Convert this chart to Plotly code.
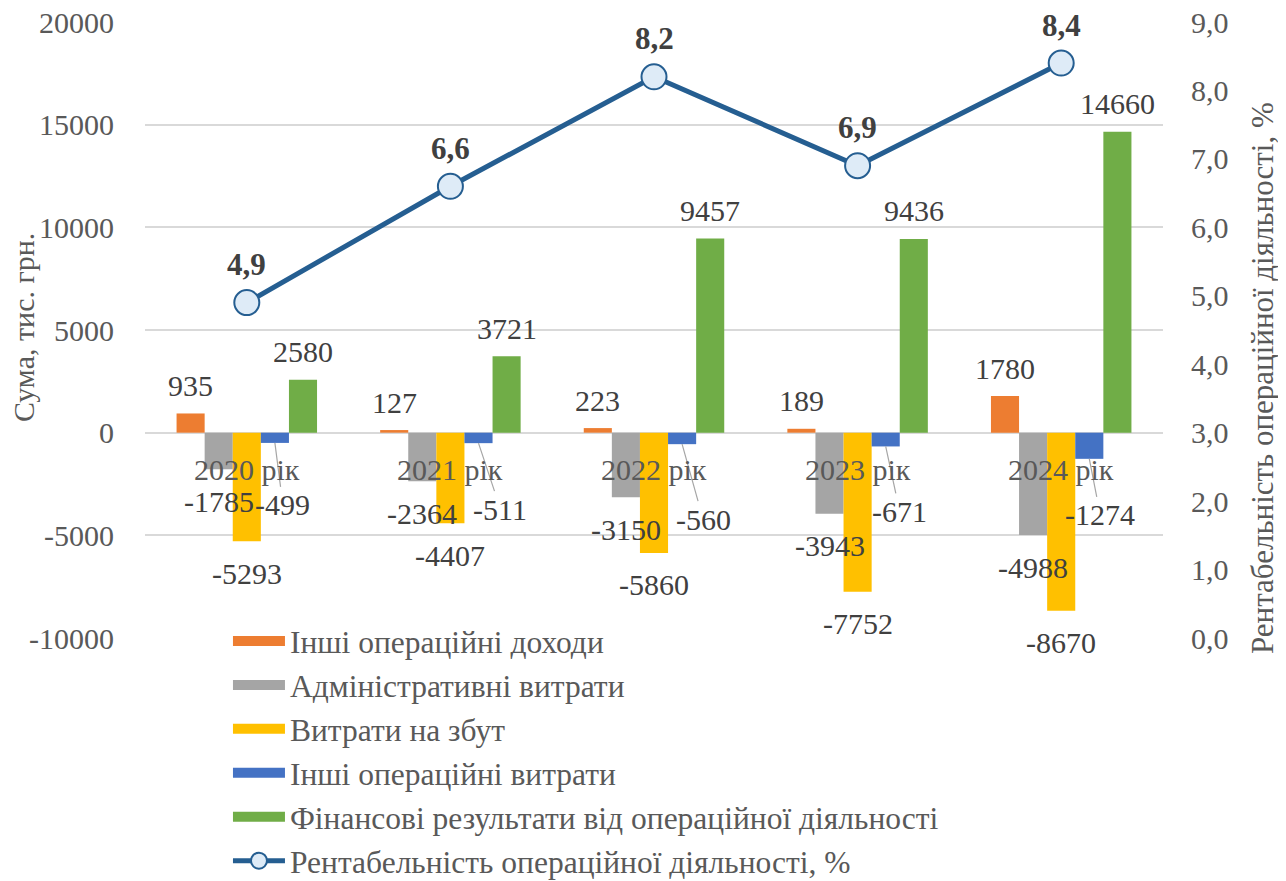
import plotly.graph_objects as go

categories = ["2020 рік", "2021 рік", "2022 рік", "2023 рік", "2024 рік"]
series_names = [
    "Інші операційні доходи",
    "Адміністративні витрати",
    "Витрати на збут",
    "Інші операційні витрати",
    "Фінансові результати від операційної діяльності",
]
other_income = [935, 127, 223, 189, 1780]
admin_costs = [-1785, -2364, -3150, -3943, -4988]
sales_costs = [-5293, -4407, -5860, -7752, -8670]
other_costs = [-499, -511, -560, -671, -1274]
op_result = [2580, 3721, 9457, 9436, 14660]
profitability = [4.9, 6.6, 8.2, 6.9, 8.4]
line_name = "Рентабельність операційної діяльності, %"
line_labels = ["4,9", "6,6", "8,2", "6,9", "8,4"]
left_ticks = [-10000, -5000, 0, 5000, 10000, 15000, 20000]
left_tick_text = ["-10000", "-5000", "0", "5000", "10000", "15000", "20000"]
left_title = "Сума, тис. грн."

bar_values = [other_income, admin_costs, sales_costs, other_costs, op_result]
bar_colors = ["#ED7D31", "#A5A5A5", "#FFC000", "#4472C4", "#70AD47"]

# label nudges (pixels) for "Інші операційні витрати" labels with leader lines
blue_label_nudge = [(8, 62), (22, 66), (21, 75), (14, 65), (11, 56)]

FONT = "Liberation Serif"
FS = 30
# page body has an 8px margin, so the figure starts at (8, 8) in the window
W, H = 1278, 873
ML, MR, MT, MB = 137, 123, 14, 243
BARGAP = 0.31

fig = go.Figure()
for i, (name, vals, col) in enumerate(zip(series_names, bar_values, bar_colors)):
    fig.add_trace(go.Bar(
        x=categories, y=vals, name=name,
        marker=dict(color=col, line=dict(width=0)),
        yaxis="y", showlegend=False, legendgroup=f"g{i}",
    ))
    # legend entry drawn as a wide colour band
    fig.add_trace(go.Scatter(
        x=[None], y=[None], name=name, mode="lines",
        line=dict(color=col, width=16), legendgroup=f"g{i}",
        hoverinfo="skip",
    ))

fig.add_trace(go.Scatter(
    x=categories, y=profitability, name=line_name,
    mode="lines+markers", yaxis="y2", legendgroup="g5",
    line=dict(color="#255E91", width=5),
    marker=dict(size=25, color="#DEEBF7", line=dict(color="#255E91", width=2)),
))

plot_w = W - ML - MR
group_w = plot_w / len(categories)
bar_w = group_w * (1 - BARGAP) / len(bar_values)

annotations = []
for si, vals in enumerate(bar_values):
    dx = (si - 2) * bar_w
    for ci, v in enumerate(vals):
        if si == 3:
            nx, ny = blue_label_nudge[ci]
            annotations.append(dict(
                x=categories[ci], y=v, xref="x", yref="y", xshift=dx,
                text=str(v), showarrow=True, arrowhead=0, arrowwidth=1.2,
                arrowcolor="#A6A6A6", axref="pixel", ayref="pixel",
                ax=nx, ay=ny, standoff=0,
                font=dict(family=FONT, size=FS, color="#404040"),
            ))
        else:
            annotations.append(dict(
                x=categories[ci], y=v, xref="x", yref="y", xshift=dx,
                yshift=28 if v >= 0 else -32,
                text=str(v), showarrow=False,
                xanchor="center", yanchor="middle",
                font=dict(family=FONT, size=FS, color="#404040"),
            ))

for ci, cat in enumerate(categories):
    annotations.append(dict(
        x=cat, y=0, xref="x", yref="y", yshift=-37,
        text=cat, showarrow=False, xanchor="center", yanchor="middle",
        font=dict(family=FONT, size=FS, color="#595959"),
    ))
    annotations.append(dict(
        x=cat, y=profitability[ci], xref="x", yref="y2", yshift=38,
        text="<b>" + line_labels[ci] + "</b>", showarrow=False,
        xanchor="center", yanchor="middle",
        font=dict(family=FONT, size=31, color="#404040"),
    ))

# axis titles
annotations.append(dict(
    x=0, y=0.5, xref="paper", yref="paper", xshift=-122, yshift=2,
    text=left_title, textangle=-90, showarrow=False,
    xanchor="center", yanchor="middle",
    font=dict(family=FONT, size=FS, color="#595959"),
))
annotations.append(dict(
    x=1, y=0.5, xref="paper", yref="paper", xshift=99, yshift=-48,
    text=line_name, textangle=-90, showarrow=False,
    xanchor="center", yanchor="middle",
    font=dict(family=FONT, size=31, color="#595959"),
))

fig.update_layout(
    width=W, height=H,
    margin=dict(l=ML, r=MR, t=MT, b=MB, pad=0, autoexpand=False),
    paper_bgcolor="white", plot_bgcolor="white",
    barmode="group", bargap=BARGAP, bargroupgap=0,
    separators=", ",
    font=dict(family=FONT, size=FS, color="#595959"),
    showlegend=True,
    legend=dict(
        x=0.0815, y=0.039, xanchor="left", yanchor="top",
        bgcolor="rgba(0,0,0,0)",
        font=dict(family=FONT, size=31.5, color="#595959"),
        traceorder="grouped", tracegroupgap=0, itemwidth=52,
    ),
    xaxis=dict(
        showticklabels=False, showgrid=False, zeroline=False,
        showline=False, ticks="",
    ),
    yaxis=dict(
        range=[-10000, 20000], tickvals=left_ticks, ticktext=left_tick_text,
        showgrid=True, gridcolor="#D9D9D9", gridwidth=1.5,
        zeroline=True, zerolinecolor="#D9D9D9", zerolinewidth=1.5,
        ticks="outside", ticklen=24, tickcolor="rgba(0,0,0,0)",
        ticklabeloverflow="allow",
        tickfont=dict(family=FONT, size=FS, color="#595959"),
    ),
    yaxis2=dict(
        overlaying="y", side="right",
        range=[0, 9], dtick=1, tickformat=".1f",
        showgrid=False, zeroline=False, ticks="", ticklabelstandoff=27,
        ticklabeloverflow="allow",
        tickfont=dict(family=FONT, size=FS, color="#595959"),
    ),
    annotations=annotations,
)

fig.write_html("out.html")
